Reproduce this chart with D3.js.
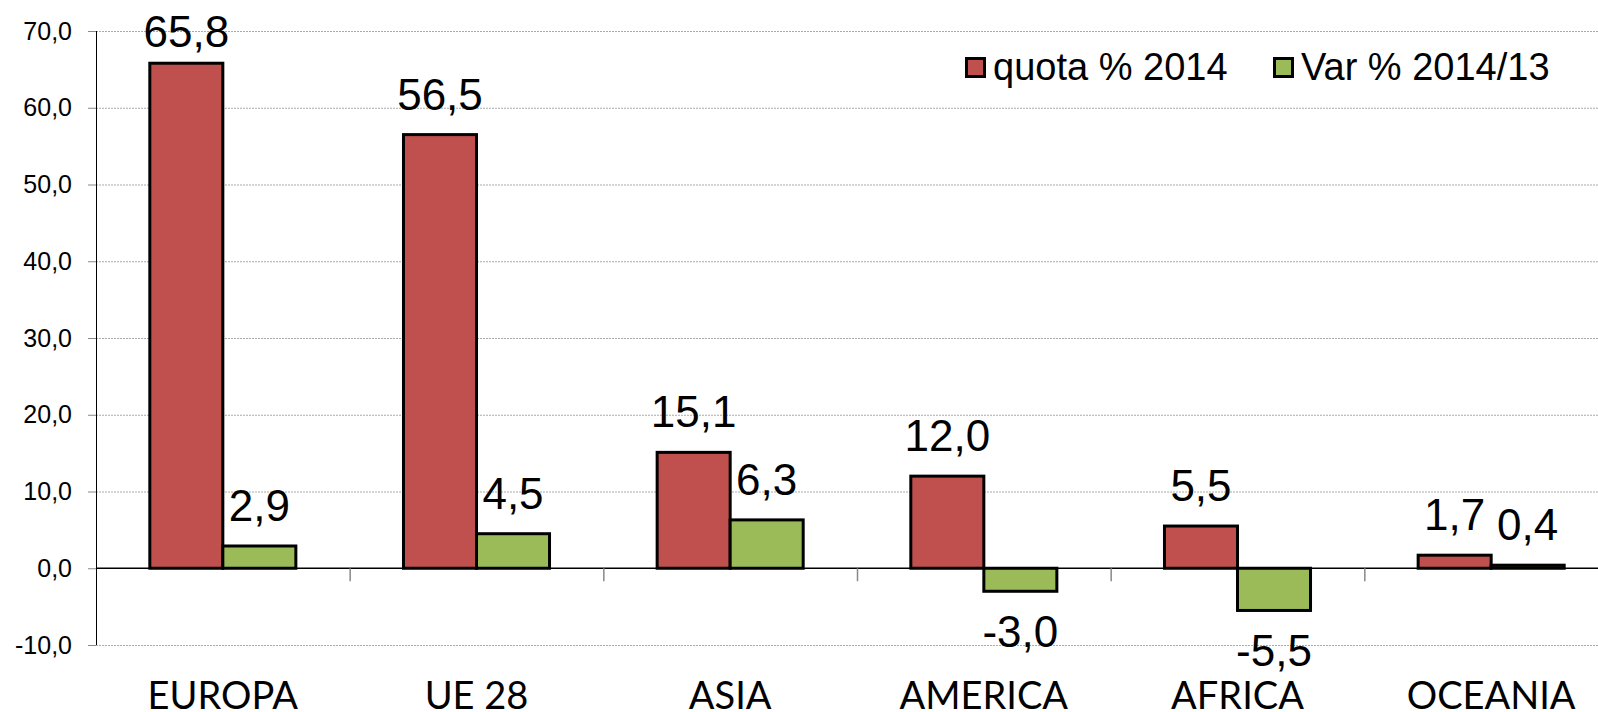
<!DOCTYPE html>
<html>
<head>
<meta charset="utf-8">
<script src="https://cdn.jsdelivr.net/npm/d3@7"></script>
<style>
  body { margin: 0; background: #fff; }
  svg { display: block; }
</style>
</head>
<body>
<div id="chart"></div>
<script>
const categories = ["EUROPA", "UE 28", "ASIA", "AMERICA", "AFRICA", "OCEANIA"];
const seriesNames = ["quota % 2014", "Var % 2014/13"];
const quota2014 = [65.8, 56.5, 15.1, 12.0, 5.5, 1.7];
const var201413 = [2.9, 4.5, 6.3, -3.0, -5.5, 0.4];
const yTicks = [-10, 0, 10, 20, 30, 40, 50, 60, 70];
const colors = ["#C0504D", "#9BBB59"];

const width = 1598;
const height = 712;
const plot = { left: 96, top: 31, bottom: 645, right: 1618 };

const fmt = v => d3.format(".1f")(v).replace(".", ",").replace("−", "-");

const rows = categories.map((c, i) => ({
  category: c,
  values: [quota2014[i], var201413[i]]
}));

const svg = d3.select("#chart").append("svg")
  .attr("width", width)
  .attr("height", height);

const x0 = d3.scaleBand()
  .domain(categories)
  .range([plot.left, plot.right])
  .padding(0);

const x1 = d3.scaleBand()
  .domain(d3.range(seriesNames.length))
  .range([0, x0.bandwidth()])
  .paddingInner(0)
  .paddingOuter(0.737);

const y = d3.scaleLinear()
  .domain([-10, 70])
  .range([plot.bottom, plot.top]);

// gridlines
svg.append("g")
  .selectAll("line")
  .data(yTicks.filter(t => t !== 0))
  .join("line")
  .attr("x1", plot.left)
  .attr("x2", plot.right)
  .attr("y1", d => y(d) + 0.5)
  .attr("y2", d => y(d) + 0.5)
  .attr("stroke", "#aaa")
  .attr("stroke-width", 1)
  .attr("stroke-dasharray", "2,1");

// y axis
const yAxis = svg.append("g")
  .attr("transform", `translate(${plot.left},0)`)
  .call(d3.axisLeft(y).tickValues(yTicks).tickSize(8).tickPadding(16).tickFormat(fmt));
yAxis.select(".domain").attr("stroke", "#000").attr("d", `M0.5,${plot.top}V${plot.bottom}`);
yAxis.selectAll(".tick line").attr("stroke", "#888");
yAxis.selectAll(".tick text")
  .attr("font-family", "Liberation Sans, Arial, sans-serif")
  .attr("font-size", 25)
  .attr("fill", "#000");

// bars
const groups = svg.append("g")
  .selectAll("g")
  .data(rows)
  .join("g")
  .attr("transform", d => `translate(${x0(d.category)},0)`);

groups.selectAll("rect")
  .data(d => d.values.map((v, i) => ({ v, i })))
  .join("rect")
  .attr("x", d => x1(d.i))
  .attr("y", d => y(Math.max(0, d.v)))
  .attr("width", x1.bandwidth())
  .attr("height", d => Math.abs(y(d.v) - y(0)))
  .attr("fill", d => colors[d.i])
  .attr("stroke", "#000")
  .attr("stroke-width", 3);

// zero line
svg.append("line")
  .attr("x1", plot.left)
  .attr("x2", plot.right)
  .attr("y1", y(0))
  .attr("y2", y(0))
  .attr("stroke", "#000")
  .attr("stroke-width", 1.5);

// category ticks
svg.append("g")
  .selectAll("line")
  .data(categories.slice(1))
  .join("line")
  .attr("x1", d => x0(d) + 0.5)
  .attr("x2", d => x0(d) + 0.5)
  .attr("y1", y(0))
  .attr("y2", y(0) + 13)
  .attr("stroke", "#888")
  .attr("stroke-width", 1.5);

// value labels
groups.selectAll("text.value")
  .data(d => d.values.map((v, i) => ({ v, i })))
  .join("text")
  .attr("class", "value")
  .attr("x", d => x1(d.i) + x1.bandwidth() / 2)
  .attr("y", d => d.v >= 0 ? Math.max(y(d.v) - 25, 47) : y(d.v) + 56)
  .attr("text-anchor", "middle")
  .attr("font-family", "Liberation Sans, Arial, sans-serif")
  .attr("font-size", 44)
  .attr("fill", "#000")
  .text(d => fmt(d.v));

// category labels
svg.append("g")
  .selectAll("text")
  .data(categories)
  .join("text")
  .attr("x", d => x0(d) + x0.bandwidth() / 2)
  .attr("y", 709)
  .attr("text-anchor", "middle")
  .attr("font-family", "Lato, sans-serif")
  .attr("font-size", 38)
  .attr("fill", "#000")
  .text(d => d);

// legend
const legendX = [965, 1273];
const legend = svg.append("g")
  .selectAll("g")
  .data(seriesNames)
  .join("g")
  .attr("transform", (d, i) => `translate(${legendX[i]},57)`);

legend.append("rect")
  .attr("x", 1.5)
  .attr("y", 1.5)
  .attr("width", 18)
  .attr("height", 18)
  .attr("fill", (d, i) => colors[i])
  .attr("stroke", "#000")
  .attr("stroke-width", 3);

legend.append("text")
  .attr("x", 28)
  .attr("y", 23)
  .attr("font-family", "Liberation Sans, Arial, sans-serif")
  .attr("font-size", 38)
  .attr("fill", "#000")
  .text(d => d);
</script>
</body>
</html>
